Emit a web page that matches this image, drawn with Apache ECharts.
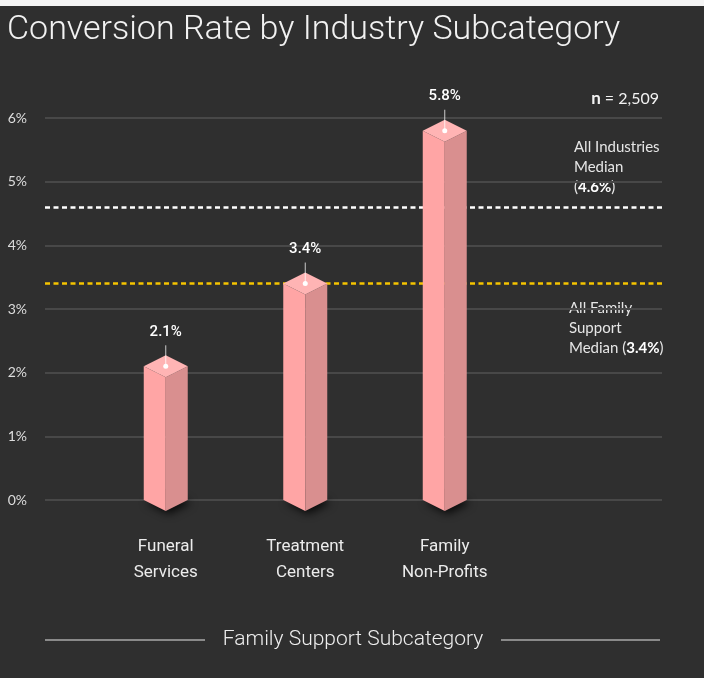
<!DOCTYPE html>
<html>
<head>
<meta charset="utf-8">
<script src="https://cdn.jsdelivr.net/npm/echarts@6/dist/echarts.min.js"></script>
<style>
  html, body { margin: 0; padding: 0; background: #2f2f2f; }
  #chart { width: 704px; height: 678px; }
</style>
</head>
<body>
<div id="chart"></div>
<script>
const categories = ['Funeral\nServices', 'Treatment\nCenters', 'Family\nNon-Profits'];
const rates = [2.1, 3.4, 5.8];
const yTicks = [0, 1, 2, 3, 4, 5, 6];
const allIndustriesMedian = 4.6;
const familySupportMedian = 3.4;
const sampleSize = 2509;

const W = 22, H = 11;

function renderBar(params, api) {
  const i = api.value(0);
  const v = api.value(1);
  const top = api.coord([i, v]);
  const base = api.coord([i, 0]);
  const cx = top[0], yv = top[1], y0 = base[1];
  return {
    type: 'group',
    children: [
      {
        type: 'polygon',
        shape: {points: [[cx - W, y0], [cx, y0 + H], [cx + W, y0], [cx, y0 - H]]},
        style: {fill: '#1a1a1a', shadowBlur: 8, shadowColor: 'rgba(0,0,0,0.8)', shadowOffsetX: 3, shadowOffsetY: 3}
      },
      {
        type: 'polygon',
        shape: {points: [[cx - W, yv], [cx, yv + H], [cx, y0 + H], [cx - W, y0]]},
        style: {fill: '#ffa5a5'}
      },
      {
        type: 'polygon',
        shape: {points: [[cx, yv + H], [cx + W, yv], [cx + W, y0], [cx, y0 + H]]},
        style: {fill: '#d98f8f'}
      },
      {
        type: 'polygon',
        shape: {points: [[cx, yv - H], [cx + W, yv], [cx, yv + H], [cx - W, yv]]},
        style: {fill: '#ffb4b4'}
      },
      {
        type: 'line',
        shape: {x1: cx, y1: yv, x2: cx, y2: yv - 21},
        style: {stroke: 'rgba(255,255,255,0.75)', lineWidth: 1}
      },
      {
        type: 'circle',
        shape: {cx: cx, cy: yv, r: 2.5},
        style: {fill: '#ffffff'}
      },
      {
        type: 'text',
        x: cx, y: yv - 34,
        style: {
          text: v.toFixed(1) + '%',
          fill: '#ffffff',
          font: '500 15px Roboto',
          align: 'center',
          verticalAlign: 'middle'
        }
      }
    ]
  };
}

const chart = echarts.init(document.getElementById('chart'));
chart.setOption({
  backgroundColor: '#2f2f2f',
  animation: false,
  title: {
    text: 'Conversion Rate by Industry Subcategory',
    left: 2, top: 8,
    textStyle: {color: '#f2f2f2', fontFamily: 'Roboto', fontWeight: 300, fontSize: 34}
  },
  grid: [
    {left: 45, right: 42, top: 118, bottom: 178},
    {left: 96, right: 189.5, top: 118, bottom: 178}
  ],
  xAxis: [
    {type: 'value', gridIndex: 0, min: 0, max: 1, show: false},
    {
      type: 'category', gridIndex: 1, data: categories,
      axisLine: {show: false}, axisTick: {show: false},
      axisLabel: {
        color: '#ececec', fontFamily: 'Roboto', fontSize: 17,
        lineHeight: 26, margin: 34, interval: 0
      }
    }
  ],
  yAxis: [
    {
      type: 'value', gridIndex: 0, min: yTicks[0], max: yTicks[yTicks.length - 1], interval: 1,
      axisLine: {show: false}, axisTick: {show: false},
      axisLabel: {color: '#dddddd', fontFamily: 'Lato', fontSize: 14, margin: 18, formatter: v => v + '%'},
      splitLine: {lineStyle: {color: '#484848', width: 2}}
    },
    {
      type: 'value', gridIndex: 1, min: yTicks[0], max: yTicks[yTicks.length - 1], interval: 1,
      show: false, splitLine: {show: false}
    }
  ],
  series: [
    {
      type: 'line', xAxisIndex: 0, yAxisIndex: 0, data: [],
      markLine: {
        silent: true, symbol: 'none', label: {show: false},
        data: [
          {yAxis: allIndustriesMedian, lineStyle: {color: '#ffffff', type: [5, 3.5], width: 2.5}},
          {yAxis: familySupportMedian, lineStyle: {color: '#f5c400', type: [5, 3.5], width: 2.5}}
        ]
      }
    },
    {
      type: 'custom', xAxisIndex: 1, yAxisIndex: 1,
      renderItem: renderBar,
      data: rates.map((v, i) => [i, v]),
      z: 5
    }
  ],
  graphic: [
    {type: 'rect', left: 0, top: 0, shape: {width: 704, height: 6}, style: {fill: '#f4f4f4'}},
    {
      type: 'text', right: 45, top: 90,
      style: {
        text: '{b|n} = ' + sampleSize.toLocaleString('en-US'),
        fill: '#f2f2f2', font: '16px Lato',
        rich: {b: {fontWeight: 'bold', fontSize: 17, fontFamily: 'Lato', fill: '#f2f2f2'}}
      }
    },
    {
      type: 'text', left: 574, top: 137,
      style: {
        text: 'All Industries\nMedian\n({b|' + allIndustriesMedian.toFixed(1) + '%})',
        fill: '#e6e6e6', font: '15px Lato', lineHeight: 20,
        rich: {b: {fontWeight: 'bold', fontSize: 15, fontFamily: 'Lato', fill: '#ffffff', lineHeight: 20}}
      }
    },
    {
      type: 'text', left: 569, top: 298,
      style: {
        text: 'All Family\nSupport\nMedian ({b|' + familySupportMedian.toFixed(1) + '%})',
        fill: '#e6e6e6', font: '15px Lato', lineHeight: 20,
        rich: {b: {fontWeight: 'bold', fontSize: 15, fontFamily: 'Lato', fill: '#ffffff', lineHeight: 20}}
      }
    },
    {type: 'line', shape: {x1: 45, y1: 640, x2: 205, y2: 640}, style: {stroke: '#8a8a8a', lineWidth: 2}},
    {type: 'line', shape: {x1: 501, y1: 640, x2: 660, y2: 640}, style: {stroke: '#8a8a8a', lineWidth: 2}},
    {
      type: 'text', x: 353, y: 640,
      style: {
        text: 'Family Support Subcategory', fill: '#eeeeee',
        font: '300 21px Roboto', align: 'center', verticalAlign: 'middle'
      }
    }
  ]
});
</script>
</body>
</html>
